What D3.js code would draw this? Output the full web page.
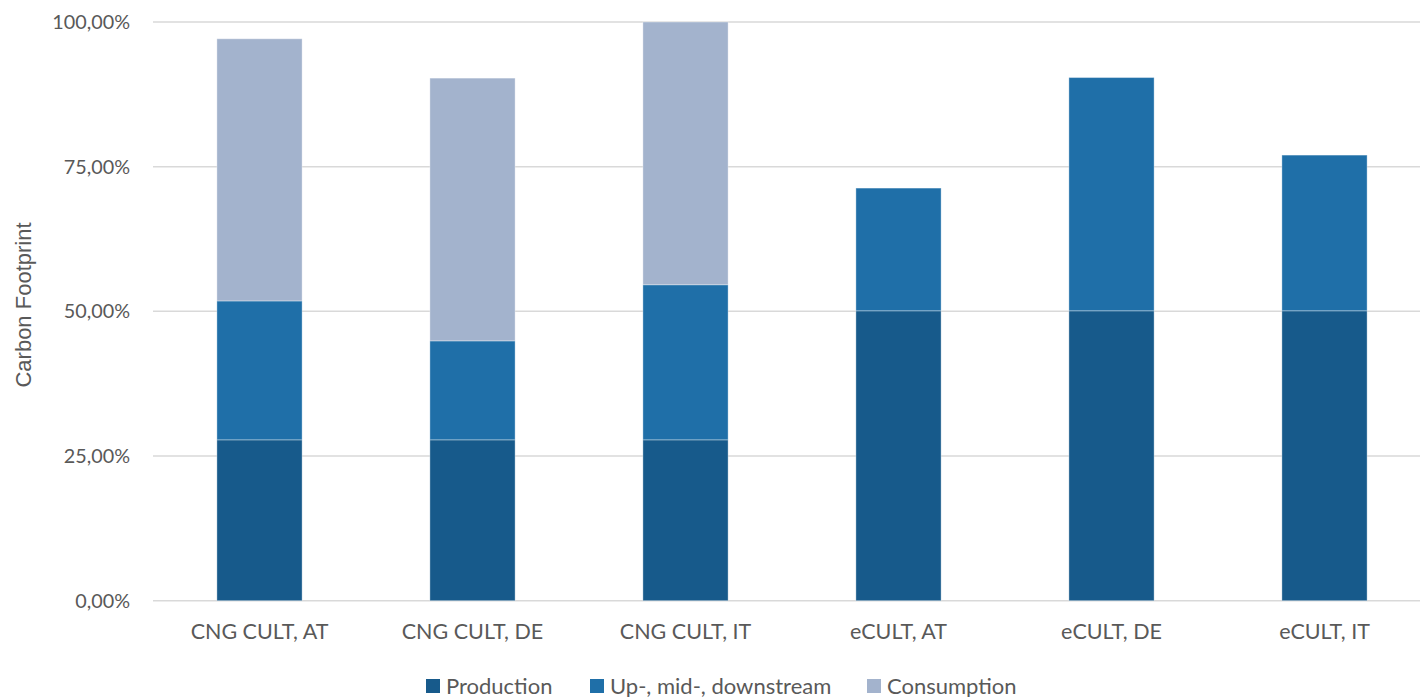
<!DOCTYPE html>
<html><head><meta charset="utf-8">
<script src="https://cdn.jsdelivr.net/npm/d3@7"></script>
<style>body{margin:0;background:#fff}svg{display:block}text{font-family:Lato,"Liberation Sans",sans-serif;fill:#595959}</style>
</head><body><svg id="c" width="1420" height="697"></svg>
<script>
const categories = ["CNG CULT, AT","CNG CULT, DE","CNG CULT, IT","eCULT, AT","eCULT, DE","eCULT, IT"];
const production = [27.8, 27.8, 27.8, 50.1, 50.1, 50.1];
const upMidDown = [24.0, 17.1, 26.8, 21.2, 40.3, 26.9];
const consumption = [45.3, 45.4, 45.4, 0, 0, 0];
const seriesNames = ["Production","Up-, mid-, downstream","Consumption"];
const colors = ["#175A8B","#1F6FA8","#A3B3CD"];
const yTicks = [0, 25, 50, 75, 100];

const svg = d3.select("#c");
const x = d3.scaleBand().domain(categories).range([153, 1431]).paddingInner(0.6).paddingOuter(0.3);
const y = d3.scaleLinear().domain([0, 100]).range([600.7, 22]);
const fmt = v => d3.format(".2f")(v).replace(".", ",") + "%";

svg.append("g").selectAll("line").data(yTicks).join("line")
  .attr("x1", 153).attr("x2", 1420).attr("y1", d => y(d)).attr("y2", d => y(d))
  .attr("stroke", "#d9d9d9").attr("stroke-width", 1.5);

const yAxis = svg.append("g").attr("transform", "translate(153,0)")
  .call(d3.axisLeft(y).tickValues(yTicks).tickFormat(fmt).tickSize(0).tickPadding(23));
yAxis.select(".domain").remove();
yAxis.selectAll("text").attr("font-size", 19.8).style("font-family", "Lato, sans-serif").attr("fill", "#595959");

const data = categories.map((c, i) => ({cat: c, Production: production[i], "Up-, mid-, downstream": upMidDown[i], Consumption: consumption[i]}));
const stack = d3.stack().keys(seriesNames)(data);
svg.append("g").selectAll("g").data(stack).join("g").attr("fill", (d, i) => colors[i])
  .selectAll("rect").data(d => d.filter(p => p[1] - p[0] > 0)).join("rect")
  .attr("x", d => x(d.data.cat)).attr("width", x.bandwidth())
  .attr("y", d => y(d[1])).attr("height", d => y(d[0]) - y(d[1]))
  .attr("stroke", "rgba(255,255,255,0.35)").attr("stroke-width", 1);

const xAxis = svg.append("g").attr("transform", "translate(0,600.7)")
  .call(d3.axisBottom(x).tickSize(0).tickPadding(23));
xAxis.select(".domain").remove();
xAxis.selectAll("text").attr("font-size", 21.5).style("font-family", "Lato, sans-serif").attr("fill", "#595959");

svg.append("text").attr("transform", "translate(31,305) rotate(-90)").attr("text-anchor", "middle")
  .style("font-family", "'Liberation Sans', Arial, sans-serif").attr("font-size", 22).text("Carbon Footprint");

const legX = [426, 590, 867];
const leg = svg.append("g").selectAll("g").data(seriesNames).join("g")
  .attr("transform", (d, i) => `translate(${legX[i]},678)`);
leg.append("rect").attr("width", 14).attr("height", 14).attr("y", 1).attr("fill", (d, i) => colors[i]);
leg.append("text").attr("x", 20).attr("y", 15.5).attr("font-size", 22).text(d => d);
</script></body></html>
